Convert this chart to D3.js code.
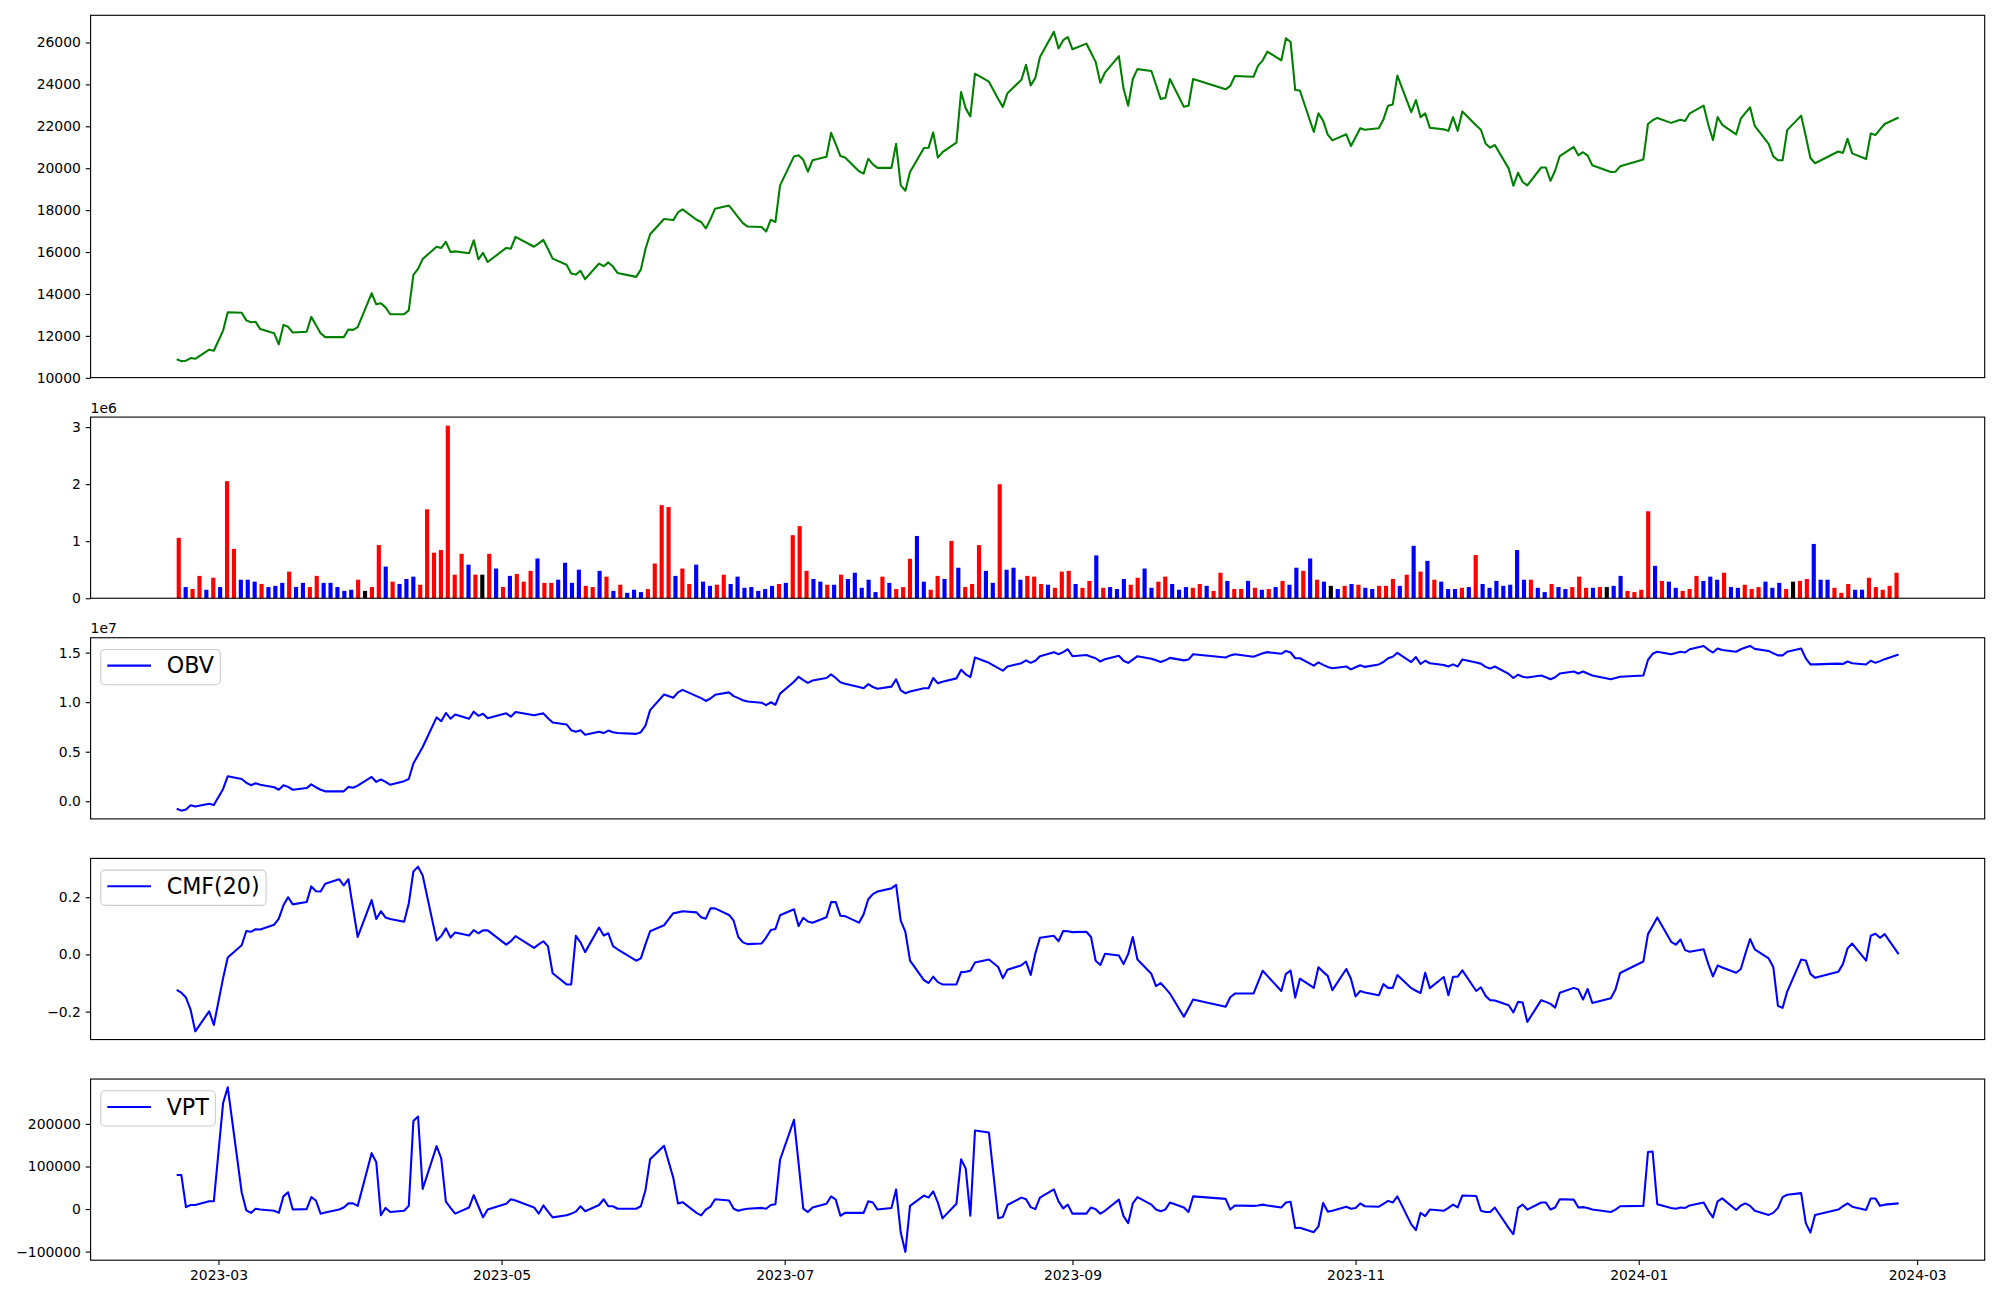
<!DOCTYPE html>
<html><head><meta charset="utf-8">
<script src="https://cdn.jsdelivr.net/npm/d3@7"></script>
<style>body{margin:0;background:#fff}svg{display:block}</style>
</head><body>
<svg id="chart" width="2000" height="1300"></svg>
<script>
// ---------------- DATA ----------------
const firstDay = "2023-02-20", lastDay = "2024-02-26";
const holidays = ["2023-03-01","2023-05-01","2023-05-05","2023-05-29","2023-06-06","2023-08-15","2023-09-28","2023-09-29","2023-10-02","2023-10-03","2023-10-09","2023-12-25","2023-12-29","2024-01-01","2024-02-09","2024-02-12"];

const close = [10886,10795,10815,10942,10905,11342,11288,12252,13125,13107,
12741,12650,12670,12323,12123,11597,12524,12433,12160,12196,
12906,12524,12123,11942,11942,11942,12305,12287,12414,14033,
13506,13561,13361,13033,13033,13215,14906,15197,15670,16252,
16197,16488,15997,16033,15943,16561,15652,15961,15524,16197,
16161,16725,16252,16416,16579,16143,15688,15397,14979,14924,
15106,14706,15452,15324,15506,15306,14997,14815,15161,16143,
16852,17580,17525,17889,18034,17543,17434,17125,17561,18071,
18216,17943,17652,17380,17216,17198,16980,17543,17434,19180,
20563,20617,20399,19835,20381,20545,21690,21145,20581,20508,
19854,19745,20454,20181,20017,20017,21163,19180,18925,19817,
20963,20981,21708,20508,20763,21218,23637,22855,22473,24510,
24128,23306,22928,23583,24219,24929,23946,24310,25310,26511,
25710,26111,26256,25674,25947,25510,25074,24074,24565,25347,
23801,22983,24256,24729,24638,23983,23310,23347,24256,22928,
22983,24256,23765,23929,24402,24365,24893,25147,25565,25147,
26202,26020,23729,23710,21728,22619,22273,21600,21327,21619,
21055,21473,21910,21837,21910,22328,22983,23037,24420,22673,
23255,22437,22619,21928,21855,21782,22437,21782,22710,22037,
21837,21182,20981,21109,19981,19162,19781,19344,19180,20035,
20035,19399,19890,20581,21018,20617,20763,20599,20145,19817,
19835,20090,20417,22109,22291,22400,22164,22237,22310,22255,
22619,22983,22073,21346,22437,22073,21618,22364,22637,22910,
22019,21164,20563,20381,20381,21818,22510,21527,20490,20235,
20799,20727,21400,20708,20436,21654,21582,21855,22110,22419];

// volume in millions of shares
const volumeM = [1.059,0.196,0.162,0.392,0.149,0.359,0.196,2.052,0.865,0.325,
0.325,0.291,0.25,0.196,0.217,0.27,0.467,0.196,0.27,0.196,
0.392,0.27,0.27,0.196,0.129,0.149,0.325,0.129,0.196,0.932,
0.555,0.291,0.25,0.338,0.379,0.237,1.559,0.799,0.845,3.024,
0.413,0.779,0.589,0.413,0.413,0.779,0.521,0.196,0.392,0.426,
0.291,0.48,0.697,0.27,0.27,0.325,0.622,0.27,0.5,0.217,
0.196,0.48,0.379,0.129,0.237,0.095,0.149,0.108,0.162,0.609,
1.632,1.599,0.392,0.521,0.25,0.589,0.291,0.217,0.237,0.413,
0.25,0.379,0.183,0.196,0.129,0.162,0.217,0.25,0.27,1.105,
1.265,0.48,0.338,0.291,0.237,0.237,0.413,0.338,0.447,0.183,
0.325,0.108,0.379,0.27,0.162,0.196,0.692,1.092,0.291,0.149,
0.392,0.338,1.005,0.535,0.196,0.25,0.932,0.48,0.27,1.999,
0.5,0.535,0.325,0.392,0.379,0.25,0.237,0.183,0.467,0.48,
0.25,0.183,0.304,0.751,0.183,0.196,0.162,0.338,0.237,0.359,
0.521,0.183,0.291,0.379,0.25,0.149,0.196,0.183,0.25,0.217,
0.129,0.447,0.304,0.162,0.162,0.304,0.183,0.149,0.162,0.196,
0.304,0.237,0.535,0.48,0.697,0.325,0.291,0.217,0.162,0.217,
0.25,0.237,0.183,0.162,0.217,0.217,0.338,0.217,0.413,0.919,
0.467,0.656,0.325,0.291,0.162,0.162,0.183,0.196,0.759,0.25,
0.183,0.304,0.217,0.237,0.845,0.325,0.325,0.183,0.108,0.25,
0.196,0.162,0.196,0.379,0.183,0.183,0.196,0.196,0.217,0.392,
0.129,0.108,0.149,1.525,0.568,0.304,0.291,0.183,0.129,0.162,
0.392,0.304,0.379,0.325,0.447,0.196,0.183,0.237,0.162,0.196,
0.291,0.183,0.27,0.162,0.291,0.304,0.338,0.952,0.325,0.325,
0.183,0.095,0.25,0.149,0.149,0.359,0.196,0.149,0.217,0.447];

// bar colour per day: R = up (red), B = down (blue), K = unchanged (black)
const barDir = "RBRRBRBRRB"+"BBRBBBRBBR"+"RBBBBBRKRR"+"BRBBBRRRRR"+"RRBRKRBRBR"+
"RRBRRBBBBR"+"RBRBRBBBRR"+"RRBRRBBBRR"+"BBBBBBBRBR"+"RRBBRBRBBB"+
"BBRBRRRBBR"+"RBRBRRRBBR"+"BBBRRRBRRR"+"BRRBRBBBRR"+"BBRRBBBRRB"+
"RRBRRBRBRB"+"RBBRBRBKBR"+"BRBBRRRBRB"+"RBRBBBRBRB"+"BBBBBBRBBR"+
"BBRRRBRKBB"+"RRRRBRBBRR"+"RBBBRBBRRR"+"BBBRKRRBBB"+"RRRBBRRRRR";

// OBV in units of 1e7
const obvE7 = [-0.075,-0.095,-0.083,-0.041,-0.054,-0.025,-0.037,0.124,0.253,0.224,
0.187,0.162,0.182,0.166,0.141,0.116,0.162,0.145,0.116,0.133,
0.17,0.141,0.116,0.1,0.1,0.1,0.145,0.137,0.158,0.245,
0.195,0.22,0.195,0.166,0.203,0.224,0.381,0.464,0.547,0.846,
0.808,0.891,0.833,0.875,0.833,0.904,0.862,0.883,0.837,0.887,
0.854,0.9,0.867,0.879,0.887,0.837,0.794,0.775,0.717,0.701,
0.717,0.672,0.701,0.688,0.713,0.697,0.688,0.68,0.697,0.763,
0.92,1.078,1.045,1.099,1.124,1.061,1.041,1.012,1.037,1.074,
1.099,1.061,1.041,1.02,1.007,0.995,0.97,0.999,0.974,1.086,
1.206,1.256,1.223,1.194,1.219,1.244,1.281,1.244,1.202,1.186,
1.153,1.14,1.182,1.153,1.136,1.157,1.231,1.119,1.09,1.107,
1.14,1.14,1.244,1.19,1.206,1.24,1.327,1.281,1.252,1.451,
1.397,1.343,1.318,1.36,1.393,1.422,1.397,1.418,1.464,1.505,
1.484,1.505,1.534,1.464,1.476,1.459,1.443,1.41,1.434,1.468,
1.418,1.397,1.43,1.464,1.439,1.422,1.405,1.422,1.447,1.422,
1.43,1.484,1.451,1.472,1.484,1.459,1.476,1.493,1.505,1.488,
1.517,1.501,1.443,1.443,1.368,1.401,1.376,1.356,1.343,1.36,
1.331,1.352,1.372,1.356,1.381,1.405,1.443,1.459,1.497,1.405,
1.455,1.385,1.418,1.393,1.376,1.36,1.381,1.36,1.43,1.401,
1.389,1.356,1.339,1.36,1.285,1.244,1.277,1.256,1.248,1.269,
1.252,1.231,1.252,1.289,1.31,1.289,1.31,1.289,1.269,1.231,
1.244,1.256,1.269,1.426,1.488,1.509,1.484,1.497,1.509,1.501,
1.534,1.567,1.53,1.501,1.542,1.526,1.509,1.534,1.551,1.567,
1.538,1.517,1.493,1.472,1.472,1.509,1.542,1.443,1.381,1.381,
1.389,1.385,1.41,1.393,1.381,1.418,1.397,1.414,1.434,1.48];

const cmf20 = [-0.124,-0.134,-0.151,-0.194,-0.269,-0.199,-0.247,-0.083,-0.011,0.032,
0.082,0.079,0.088,0.087,0.104,0.125,0.172,0.2,0.175,0.183,
0.238,0.221,0.22,0.247,0.263,0.241,0.263,0.161,0.061,0.19,
0.124,0.151,0.129,0.124,0.114,0.178,0.29,0.307,0.276,0.049,
0.064,0.091,0.059,0.077,0.066,0.085,0.074,0.084,0.084,0.034,
0.046,0.064,0.023,0.035,0.046,0.028,-0.066,-0.105,-0.105,0.065,
0.042,0.008,0.094,0.066,0.074,0.029,0.018,-0.022,-0.014,0.035,
0.081,0.102,0.144,0.147,0.151,0.147,0.13,0.125,0.161,0.161,
0.138,0.118,0.061,0.042,0.036,0.038,0.059,0.085,0.089,0.137,
0.158,0.099,0.128,0.115,0.111,0.13,0.183,0.183,0.135,0.134,
0.111,0.14,0.193,0.211,0.22,0.231,0.243,0.118,0.079,-0.022,
-0.09,-0.1,-0.078,-0.097,-0.105,-0.105,-0.062,-0.061,-0.057,-0.028,
-0.018,-0.044,-0.083,-0.054,-0.038,-0.025,-0.072,0.003,0.058,0.065,
0.046,0.082,0.081,0.078,0.079,0.061,-0.022,-0.037,0.002,-0.004,
-0.034,0.001,0.061,-0.018,-0.068,-0.111,-0.1,-0.118,-0.137,-0.218,
-0.188,-0.158,-0.183,-0.15,-0.137,-0.137,-0.097,-0.057,-0.075,-0.128,
-0.068,-0.057,-0.151,-0.085,-0.117,-0.045,-0.061,-0.075,-0.125,-0.051,
-0.085,-0.147,-0.128,-0.133,-0.143,-0.104,-0.117,-0.117,-0.072,-0.118,
-0.127,-0.135,-0.064,-0.118,-0.079,-0.143,-0.078,-0.078,-0.056,-0.128,
-0.115,-0.145,-0.16,-0.161,-0.178,-0.203,-0.166,-0.168,-0.236,-0.16,
-0.166,-0.173,-0.186,-0.134,-0.117,-0.123,-0.158,-0.121,-0.17,-0.153,
-0.123,-0.065,-0.025,0.071,0.099,0.129,0.044,0.034,0.052,0.015,
0.009,0.018,-0.034,-0.077,-0.039,-0.046,-0.064,-0.051,0.003,0.054,
0.018,-0.014,-0.044,-0.18,-0.187,-0.13,-0.018,-0.021,-0.068,-0.082,
-0.061,-0.034,0.021,0.038,-0.022,0.065,0.072,0.058,0.071,0.001];

const vpt = [80000,80000,4500,9400,9400,18100,18100,249200,286000,39400,
-3200,-9000,700,-1300,-4200,-9000,29700,39400,-1300,-300,
27800,20000,-10900,-8000,-1300,3600,13200,13200,7400,131200,
109900,-14800,2600,-7100,-4200,7400,206700,217300,47100,147700,
118700,17100,2600,-10900,3600,32600,6500,-19600,-1300,12300,
22900,20000,3600,-10900,8400,-6100,-19600,-14800,-10900,-6100,
6500,-5100,9400,22900,6500,6500,700,700,6500,44200,
116700,148600,73200,13200,16100,-9000,-14800,-1300,5500,22900,
20000,700,-4200,-1300,700,2600,700,9400,11300,115800,
209600,106800,700,-7100,3600,12300,29700,22000,-15800,-9000,
-9000,-9000,18100,15200,-1300,2600,46100,-55400,-100900,7400,
31600,26800,41300,15200,-22000,12300,116700,95400,-15800,184400,
179600,-21600,-18700,9400,26800,22900,4500,-300,26800,46100,
18100,1600,10300,-10900,-10900,3600,-300,-10900,-4200,22000,
-16700,-33200,13200,27800,10300,-1300,-5100,-1300,15200,3600,
-7100,29700,23900,-1300,8400,7400,8400,10300,8400,3600,
15200,17100,-44800,-43800,-54500,-40900,14200,-6100,-4200,5500,
700,2600,13200,6500,5500,12300,19100,15200,29700,-36100,
-49600,-9000,-16700,-1300,-4200,2600,10300,3600,31600,30600,
-4200,-7100,-7100,3600,-44800,-59300,2600,10300,-1300,15200,
15200,-1300,3600,22900,22000,3600,4500,2600,-1300,-7100,
-1300,6500,7400,134000,135000,11300,2600,700,3600,2600,
8400,15200,-4200,-19600,18100,24900,-2200,8400,13200,7400,
-4200,-13800,-9000,2600,27800,33600,37400,-33200,-55400,-13800,
-1300,6500,13200,5500,-2200,24900,24900,7400,10300,13200];

const priceTicks = [10000,12000,14000,16000,18000,20000,22000,24000,26000];
const volTicks = [0,1e6,2e6,3e6];
const obvTicks = [0,0.5e7,1.0e7,1.5e7];
const cmfTicks = [-0.2,0,0.2];
const vptTicks = [-100000,0,100000,200000];
const monthTicks = ["2023-03-01","2023-05-01","2023-07-01","2023-09-01","2023-11-01","2024-01-01","2024-03-01"];
const legendNames = ["OBV","CMF(20)","VPT"];

// ---------------- CHART ----------------
const volume = volumeM.map(v => v * 1e6);
const obv = obvE7.map(v => v * 1e7);
const parse = d3.utcParse("%Y-%m-%d"), fmtDay = d3.utcFormat("%Y-%m-%d");
const dates = d3.utcDays(parse(firstDay), d3.utcDay.offset(parse(lastDay), 1))
  .filter(d => d.getUTCDay() % 6 !== 0 && !holidays.includes(fmtDay(d)));
const N = dates.length;

const svg = d3.select("#chart");
const FONT = "DejaVu Sans";
const L = 90.6, R = 1984.7;
const unitH = 181.15, gap = 39.5, top0 = 15.3;
const panels = [];
let t = top0;
[2,1,1,1,1].forEach(k => { panels.push({top: t, h: k*unitH}); t += k*unitH + gap; });

function padExt(arr){ const [a,b] = d3.extent(arr); const r = b - a; return [a - 0.05*r, b + 0.05*r]; }
const minus = s => s.replace(/-/g, "\u2212");

const span = dates[N-1] - dates[0];
const x = d3.scaleUtc().domain([new Date(+dates[0] - 0.05*span), new Date(+dates[N-1] + 0.05*span)]).range([L, R]);
const bw = 0.6, bpad = 0.05*(N - 1 + bw);
const xb = d3.scaleLinear().domain([-bw/2 - bpad, N - 1 + bw/2 + bpad]).range([L, R]);

function yAxis(p, y, ticks, fmt){
  const g = svg.append("g");
  g.call(d3.axisLeft(y).tickValues(ticks).tickFormat(fmt).tickSize(4.86).tickPadding(4.86));
  g.attr("transform", `translate(${L},0)`);
  g.select(".domain").remove();
  g.attr("font-size", 13.9).attr("font-family", FONT);
  g.selectAll("text").attr("fill", "#000");
  g.selectAll("line").attr("stroke", "#000").attr("stroke-width", 1.11);
}
function frame(p){
  svg.append("rect").attr("x", L).attr("y", p.top).attr("width", R - L).attr("height", p.h)
    .attr("fill", "none").attr("stroke", "#000").attr("stroke-width", 1.11);
}
function drawLine(p, y, vals, color){
  const line = d3.line().x((d,i) => x(dates[i])).y(d => y(d));
  svg.append("path").datum(vals).attr("d", line).attr("fill", "none")
    .attr("stroke", color).attr("stroke-width", 2.08).attr("stroke-linejoin", "round");
}
function legend(p, name){
  const g = svg.append("g");
  const bx = 100.7, by = p.top + 11.7;
  const rect = g.append("rect").attr("x", bx).attr("y", by).attr("height", 35.3).attr("rx", 4.4)
    .attr("fill", "#fff").attr("fill-opacity", 0.8).attr("stroke", "#cccccc").attr("stroke-width", 1.1);
  g.append("line").attr("x1", 107.3).attr("x2", 151).attr("y1", by + 16.2).attr("y2", by + 16.2)
    .attr("stroke", "#0000ff").attr("stroke-width", 2.08);
  const tx = g.append("text").attr("x", 166.7).attr("y", by + 24).attr("font-family", FONT)
    .attr("font-size", 22.2).attr("fill", "#000").text(name);
  const tw = tx.node().getComputedTextLength();
  rect.attr("width", 166.7 + tw + 6.5 - bx);
}
function offsetText(p, s){
  svg.append("text").attr("x", L).attr("y", p.top - 4.5).attr("font-family", FONT)
    .attr("font-size", 13.9).attr("fill", "#000").text(s);
}

// Panel 1: price
{
  const p = panels[0];
  const y = d3.scaleLinear().domain(padExt(close)).range([p.top + p.h, p.top]);
  drawLine(p, y, close, "#008000");
  yAxis(p, y, priceTicks, d3.format("d"));
  frame(p);
}
// Panel 2: volume bars
{
  const p = panels[1];
  const y = d3.scaleLinear().domain([0, d3.max(volume) * 1.05]).range([p.top + p.h, p.top]);
  const col = {R: "#ff0000", B: "#0000ff", K: "#000000"};
  svg.append("g").selectAll("rect").data(volume).join("rect")
    .attr("x", (d,i) => xb(i - bw/2)).attr("width", xb(bw) - xb(0))
    .attr("y", d => y(d)).attr("height", d => y(0) - y(d))
    .attr("fill", (d,i) => col[barDir[i]]);
  yAxis(p, y, volTicks, d => d3.format("d")(d / 1e6));
  frame(p);
  offsetText(p, "1e6");
}
// Panel 3: OBV
{
  const p = panels[2];
  const y = d3.scaleLinear().domain(padExt(obv)).range([p.top + p.h, p.top]);
  drawLine(p, y, obv, "#0000ff");
  yAxis(p, y, obvTicks, d => minus(d3.format(".1f")(d / 1e7)));
  frame(p);
  legend(p, legendNames[0]);
  offsetText(p, "1e7");
}
// Panel 4: CMF
{
  const p = panels[3];
  const y = d3.scaleLinear().domain(padExt(cmf20)).range([p.top + p.h, p.top]);
  drawLine(p, y, cmf20, "#0000ff");
  yAxis(p, y, cmfTicks, d => minus(d3.format(".1f")(d)));
  frame(p);
  legend(p, legendNames[1]);
}
// Panel 5: VPT + date axis
{
  const p = panels[4];
  const y = d3.scaleLinear().domain(padExt(vpt)).range([p.top + p.h, p.top]);
  drawLine(p, y, vpt, "#0000ff");
  yAxis(p, y, vptTicks, d => minus(d3.format("d")(d)));
  frame(p);
  legend(p, legendNames[2]);
  const g = svg.append("g").attr("transform", `translate(0,${p.top + p.h})`);
  g.call(d3.axisBottom(x).tickValues(monthTicks.map(parse)).tickFormat(d3.utcFormat("%Y-%m"))
    .tickSize(4.86).tickPadding(4.86));
  g.select(".domain").remove();
  g.attr("font-size", 13.9).attr("font-family", FONT);
  g.selectAll("text").attr("fill", "#000");
  g.selectAll("line").attr("stroke", "#000").attr("stroke-width", 1.11);
}
if (N !== close.length || N !== volume.length || N !== barDir.length || N !== obv.length || N !== cmf20.length || N !== vpt.length) {
  svg.append("text").attr("x", 1000).attr("y", 700).attr("fill", "red").attr("font-size", 30)
    .text(`len mismatch N=${N} c=${close.length} v=${volume.length} b=${barDir.length} o=${obv.length} m=${cmf20.length} p=${vpt.length}`);
}
</script>
</body></html>
